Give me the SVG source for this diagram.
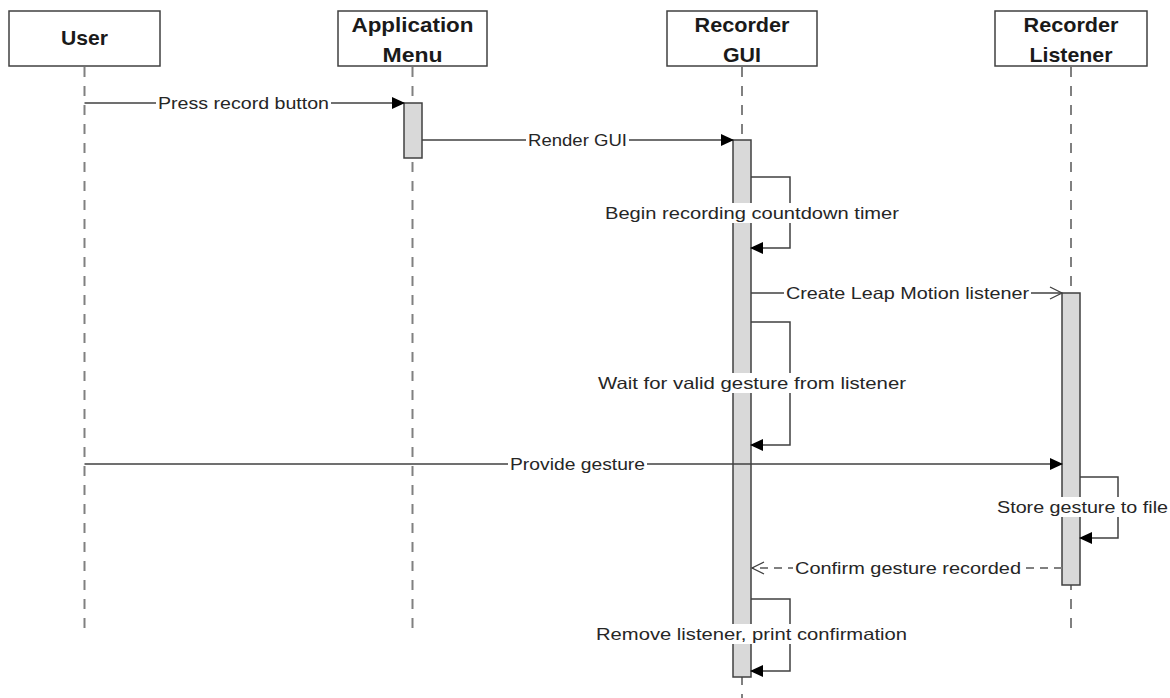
<svg xmlns="http://www.w3.org/2000/svg" width="1170" height="698" viewBox="0 0 1170 698">
<style>
.box{fill:#fff;stroke:#404040;stroke-width:1.5}
.title{font-family:"Liberation Sans",Arial,sans-serif;font-weight:bold;font-size:21px;fill:#1a1a1a;text-anchor:middle}
.life{stroke:#808080;stroke-width:2;stroke-dasharray:10 9;fill:none}
.act{fill:#d9d9d9;stroke:#404040;stroke-width:1.5}
.msg{stroke:#404040;stroke-width:1.5;fill:none}
.ret{stroke:#808080;stroke-width:2;stroke-dasharray:8 6;fill:none}
.lbl{font-family:"Liberation Sans",Arial,sans-serif;font-size:16.5px;fill:#262626;text-anchor:middle}
.bg{fill:#fff}
</style>
<defs>
<marker id="fill" markerUnits="userSpaceOnUse" markerWidth="14" markerHeight="12" refX="12" refY="6" orient="auto">
<path d="M0,0 L13,6 L0,12 z" fill="#000"/>
</marker>
<marker id="open" markerUnits="userSpaceOnUse" markerWidth="16" markerHeight="14" refX="13" refY="7" orient="auto">
<path d="M1,1 L13,7 L1,13" fill="none" stroke="#404040" stroke-width="1.3"/>
</marker>
</defs>

<g id="lifelines">
<line class="life" x1="84.5" y1="67" x2="84.5" y2="633"/>
<line class="life" x1="412.5" y1="67" x2="412.5" y2="633"/>
<line class="life" x1="742" y1="67" x2="742" y2="698"/>
<line class="life" x1="1071" y1="67" x2="1071" y2="633"/>
</g>

<g id="user">
<rect class="box" x="9" y="11" width="151" height="55"/>
<text class="title" x="84.5" y="45" textLength="47" lengthAdjust="spacingAndGlyphs">User</text>
</g>
<g id="application-menu">
<rect class="box" x="338" y="11" width="149" height="55"/>
<text class="title" x="412.5" y="32" textLength="122" lengthAdjust="spacingAndGlyphs">Application</text>
<text class="title" x="412.5" y="62" textLength="60" lengthAdjust="spacingAndGlyphs">Menu</text>
<rect class="act" x="404" y="103" width="18" height="55"/>
</g>
<g id="recorder-gui">
<rect class="box" x="667" y="11" width="150" height="55"/>
<text class="title" x="742" y="32" textLength="95" lengthAdjust="spacingAndGlyphs">Recorder</text>
<text class="title" x="742" y="62" textLength="38" lengthAdjust="spacingAndGlyphs">GUI</text>
<rect class="act" x="733" y="140" width="18" height="537"/>
</g>
<g id="recorder-listener">
<rect class="box" x="995" y="11" width="152" height="55"/>
<text class="title" x="1071" y="32" textLength="95" lengthAdjust="spacingAndGlyphs">Recorder</text>
<text class="title" x="1071" y="62" textLength="83" lengthAdjust="spacingAndGlyphs">Listener</text>
<rect class="act" x="1062" y="293" width="18" height="292"/>
</g>

<g id="connectors">
<line class="msg" x1="84.5" y1="103" x2="404" y2="103" marker-end="url(#fill)"/>
<line class="msg" x1="422" y1="140" x2="733" y2="140" marker-end="url(#fill)"/>
<polyline class="msg" points="751,177 790,177 790,248 751,248" marker-end="url(#fill)"/>
<line class="msg" x1="751" y1="293" x2="1062" y2="293" marker-end="url(#open)"/>
<polyline class="msg" points="751,322 790,322 790,445 751,445" marker-end="url(#fill)"/>
<line class="msg" x1="84.5" y1="464" x2="1062" y2="464" marker-end="url(#fill)"/>
<polyline class="msg" points="1080,477 1118,477 1118,538 1080,538" marker-end="url(#fill)"/>
<line class="ret" x1="1062" y1="568" x2="752" y2="568" marker-end="url(#open)"/>
<polyline class="msg" points="751,599 790,599 790,671 751,671" marker-end="url(#fill)"/>
</g>

<g id="labels">
<rect class="bg" x="156" y="94" width="175" height="18"/>
<text class="lbl" x="243.5" y="108.5" textLength="171" lengthAdjust="spacingAndGlyphs">Press record button</text>
<rect class="bg" x="526" y="131" width="103" height="18"/>
<text class="lbl" x="577.5" y="145.5" textLength="99" lengthAdjust="spacingAndGlyphs">Render GUI</text>
<rect class="bg" x="602" y="203" width="300" height="20"/>
<text class="lbl" x="752" y="218.5" textLength="294" lengthAdjust="spacingAndGlyphs">Begin recording countdown timer</text>
<rect class="bg" x="784" y="284" width="247" height="18"/>
<text class="lbl" x="907.5" y="298.5" textLength="243" lengthAdjust="spacingAndGlyphs">Create Leap Motion listener</text>
<rect class="bg" x="595" y="373" width="314" height="20"/>
<text class="lbl" x="752" y="388.5" textLength="308" lengthAdjust="spacingAndGlyphs">Wait for valid gesture from listener</text>
<rect class="bg" x="508" y="455" width="139" height="18"/>
<text class="lbl" x="577.5" y="469.5" textLength="135" lengthAdjust="spacingAndGlyphs">Provide gesture</text>
<rect class="bg" x="994" y="497" width="176" height="20"/>
<text class="lbl" x="1082.5" y="512.5" textLength="171" lengthAdjust="spacingAndGlyphs">Store gesture to file</text>
<rect class="bg" x="793" y="559" width="230" height="18"/>
<text class="lbl" x="908" y="573.5" textLength="226" lengthAdjust="spacingAndGlyphs">Confirm gesture recorded</text>
<rect class="bg" x="593" y="624" width="317" height="20"/>
<text class="lbl" x="751.5" y="639.5" textLength="311" lengthAdjust="spacingAndGlyphs">Remove listener, print confirmation</text>
</g>
</svg>
